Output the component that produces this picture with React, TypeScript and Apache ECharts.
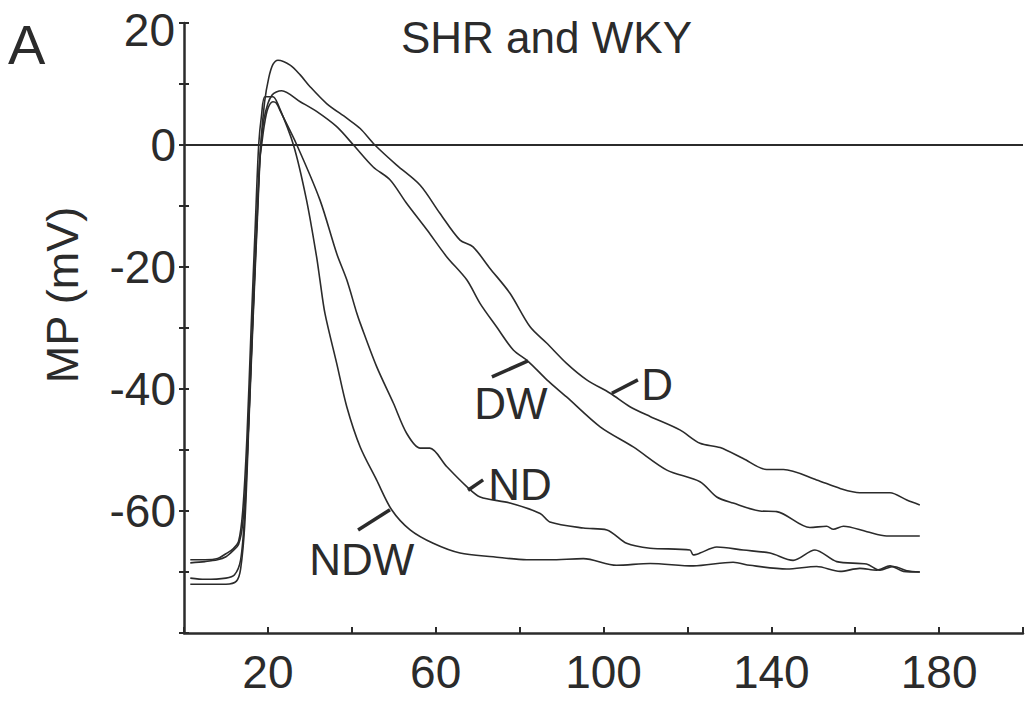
import React, { useEffect, useRef } from "react";
import * as echarts from "echarts";

// Membrane potential traces: [time, MP (mV)]
const D: [number, number][] = [
  [1.5, -72], [5, -72], [10, -72], [12.5, -71.5], [13.5, -69.5], [14.5, -62], [15.5, -45], [16.5, -28],
  [17.5, -12], [18.3, 0], [19.2, 7], [20.2, 11], [21.2, 13.2], [22.4, 13.9], [25.3, 13.1], [27.7, 11.5],
  [30.0, 9.6], [34.0, 6.8], [38.8, 4.4], [42.0, 2.7], [45.5, 0], [50.7, -3.3], [56.3, -6.6], [61.0, -11.2],
  [65.8, -15.6], [68.9, -16.7], [72.9, -20.2], [77.7, -24.3], [82.5, -29.8], [86.5, -32.5], [91.2, -35.8],
  [96.0, -38.5], [101.6, -40.7], [106.3, -42.9], [111.1, -44.5], [118.2, -46.7], [123.0, -48.9],
  [127.8, -49.6], [133.3, -51.4], [138.9, -53.2], [142.9, -53.2], [150.8, -54.9], [156.4, -56.3],
  [161.1, -57.0], [168.3, -57.0], [172.3, -58.2], [175.4, -59.0],
];
const DW: [number, number][] = [
  [1.5, -71], [5, -71.2], [10, -71], [12, -70.5], [13.5, -68], [14.5, -60], [15.5, -44], [16.5, -27],
  [17.5, -11], [18.2, -1], [19, 4], [20, 6.8], [21, 8.2], [22, 8.7], [23.3, 8.9], [27.7, 7.1], [31.6, 5.5],
  [36.4, 3.0], [40.4, 0], [45.1, -3.6], [49.1, -5.7], [53.1, -9.6], [57.9, -13.9], [62.6, -18.3],
  [67.4, -22.1], [70.6, -26.0], [74.5, -29.8], [78.5, -33.6], [82.1, -35.5], [86.5, -38.5], [91.2, -41.3],
  [99.2, -46.2], [107.1, -49.5], [115.1, -53.3], [123.0, -55.2], [127.0, -57.7], [130.9, -58.7],
  [137.3, -60.0], [141.3, -60.1], [149.2, -62.7], [153.2, -62.5], [154.8, -63.0], [157.2, -62.5],
  [162.8, -63.4], [167.5, -64.1], [175.4, -64.1],
];
const ND: [number, number][] = [
  [1.5, -68.5], [5, -68.3], [8, -68], [10, -67.5], [11.7, -66.5], [13, -65.5], [14, -62], [15, -52],
  [16, -35], [17, -18], [18, -3], [18.5, 0], [19.2, 3.5], [20, 6], [21.2, 7.1], [22, 6.9], [23, 5.5],
  [26.9, 0], [32.4, -9.0], [36.4, -17.8], [38.8, -22.1], [41.2, -27.6], [42.0, -29.2], [45.9, -36.3],
  [49.9, -42.3], [53.1, -47.3], [56.3, -49.7], [58.6, -49.7], [62.6, -52.7], [67.4, -56.0], [70.6, -57.7],
  [77.7, -58.7], [84.9, -60.4], [87.2, -61.8], [95.2, -62.8], [100.8, -63.1], [105.5, -65.3],
  [111.1, -66.1], [120.6, -66.4], [121.4, -67.2], [123.0, -66.9], [127.0, -65.9], [133.3, -66.4],
  [139.7, -66.9], [145.2, -68.1], [150.4, -66.4], [155.6, -68.3], [162.7, -68.7], [165.9, -69.7],
  [169.1, -69.1], [172.3, -69.8], [175.4, -70.0],
];
const NDW: [number, number][] = [
  [1.5, -68], [5, -68], [8, -67.8], [10, -67], [11.7, -66.2], [13, -65], [14, -60], [15, -48], [16, -30],
  [17, -13], [17.8, 0], [18.5, 5], [19.3, 7.9], [21.2, 7.9], [22.5, 6.5], [26.1, 0], [29.2, -9.0],
  [31.6, -18.3], [32.4, -22.1], [33.6, -27.6], [36.4, -35.8], [38.8, -42.9], [42.0, -49.5], [45.9, -54.9],
  [49.5, -59.8], [53.9, -63.1], [59.4, -65.3], [65.8, -66.9], [73.7, -67.5], [81.7, -68.0], [87.2, -68.0],
  [95.2, -67.8], [103.1, -68.9], [111.1, -68.6], [121.4, -69.0], [130.9, -68.4], [134.9, -68.9],
  [143.7, -69.5], [150.8, -69.1], [156.4, -69.9], [161.1, -69.4], [165.1, -69.7], [168.3, -69.0],
  [171.5, -69.9], [175.4, -70.0],
];

// Curve labels: name, leader line start/end, text position (data coords)
const LABELS = [
  { series: "D", from: [102.0, -40.7], to: [108.2, -38.5], text: [112.8, -39.3] },
  { series: "DW", from: [73.4, -38.0], to: [82.0, -35.4], text: [77.9, -42.3] },
  { series: "ND", from: [67.7, -56.6], to: [71.3, -54.9], text: [80.1, -55.7] },
  { series: "NDW", from: [41.5, -63.1], to: [49.1, -59.8], text: [42.4, -68.0] },
];

const X_MIN = 0, X_MAX = 200, X_STEP = 20;
const Y_MIN = -80, Y_MAX = 20, Y_STEP = 10;
const Y_TOP_LABEL = "20";

const INK = "#2b2b2b";
const FONT = "Liberation Sans";

export default function App() {
  const ref = useRef<HTMLDivElement>(null);
  useEffect(() => {
    if (!ref.current) return;
    const chart = echarts.init(ref.current, undefined, { renderer: "svg" });
    const dataMap: Record<string, [number, number][]> = { D, DW, ND, NDW };
    const series: any[] = ["D", "DW", "ND", "NDW"].map((name, i) => {
      const lab = LABELS.find((l) => l.series === name)!;
      const s: any = {
        name,
        type: "line",
        data: dataMap[name],
        showSymbol: false,
        symbol: "none",
        smooth: 0.3,
        lineStyle: { color: INK, width: 1.6 },
        z: 3,
        markLine: {
          silent: true,
          symbol: "none",
          label: { show: false },
          lineStyle: { color: INK, width: 3.5, type: "solid" },
          data: [[{ coord: lab.from }, { coord: lab.to }]] as any[],
        },
        markPoint: {
          silent: true,
          symbol: "rect",
          symbolSize: 1,
          itemStyle: { color: "rgba(0,0,0,0)" },
          label: {
            show: true,
            position: "inside",
            formatter: name,
            color: INK,
            fontFamily: FONT,
            fontSize: 44,
          },
          data: [{ coord: lab.text, value: name }],
        },
      };
      if (i === 0) {
        s.markLine.data.push([
          { coord: [X_MIN, 0], lineStyle: { width: 2, color: INK } },
          { coord: [X_MAX, 0] },
        ]);
      }
      return s;
    });

    chart.setOption({
      animation: false,
      backgroundColor: "#ffffff",
      title: {
        text: "SHR and WKY",
        left: 396,
        top: 10,
        textStyle: { fontFamily: FONT, fontSize: 44, fontWeight: "normal", color: INK },
      },
      grid: { left: 184, right: 6, top: 23, bottom: 80, containLabel: false },
      xAxis: {
        type: "value",
        min: X_MIN,
        max: X_MAX,
        interval: X_STEP,
        splitLine: { show: false },
        axisLine: { onZero: false, lineStyle: { color: INK, width: 2.5 } },
        axisTick: { inside: true, length: 6, lineStyle: { color: INK, width: 2 } },
        axisLabel: {
          margin: 16,
          color: INK,
          fontFamily: FONT,
          fontSize: 46,
          formatter: (v: number) => (v % 40 === 20 ? String(v) : ""),
        },
      },
      yAxis: [
        {
          type: "value",
          min: Y_MIN,
          max: Y_MAX,
          interval: Y_STEP,
          splitLine: { show: false },
          axisLine: { onZero: false, lineStyle: { color: INK, width: 2.5 } },
          axisTick: { inside: false, length: 5, lineStyle: { color: INK, width: 2 } },
          axisLabel: {
            margin: 8,
            color: INK,
            fontFamily: FONT,
            fontSize: 46,
            formatter: (v: number) =>
              v % 20 === 0 && v !== Y_MIN && v !== Y_MAX ? String(v) : "",
          },
        },
        {
          type: "value",
          position: "left",
          min: Y_MIN,
          max: Y_MAX,
          interval: Y_STEP,
          splitLine: { show: false },
          axisLine: { show: false, onZero: false },
          axisTick: { inside: true, length: 5, lineStyle: { color: INK, width: 2 } },
          axisLabel: { show: false },
        },
      ],
      graphic: [
        {
          type: "text",
          left: 8,
          top: 16,
          style: { text: "A", fontFamily: FONT, fontSize: 56, fill: INK },
        },
        {
          type: "text",
          x: 175,
          y: 30,
          style: {
            text: Y_TOP_LABEL,
            fontFamily: FONT,
            fontSize: 46,
            fill: INK,
            align: "right",
            verticalAlign: "middle",
          },
        },
        {
          type: "text",
          x: 62,
          y: 295,
          rotation: Math.PI / 2,
          style: {
            text: "MP (mV)",
            fontFamily: FONT,
            fontSize: 45,
            fill: INK,
            align: "center",
            verticalAlign: "middle",
          },
        },
      ],
      series,
    });
    return () => chart.dispose();
  }, []);
  return (
    <div
      ref={ref}
      style={{ position: "fixed", left: 0, top: 0, width: 1029, height: 713, background: "#fff" }}
    />
  );
}
